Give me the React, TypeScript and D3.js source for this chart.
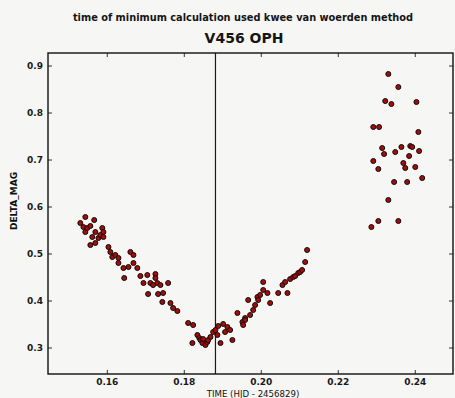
import React from 'react';
import * as d3 from 'd3';

// descending branch
const descTime = [0.1530, 0.1538, 0.1543, 0.1543, 0.1548, 0.1556, 0.1556, 0.1561, 0.1566, 0.1569,
  0.1569, 0.1577, 0.1582, 0.1587, 0.1590, 0.1590, 0.1603, 0.1608, 0.1613, 0.1621,
  0.1629, 0.1629, 0.1642, 0.1644, 0.1655, 0.1660, 0.1668, 0.1668, 0.1678, 0.1686,
  0.1704, 0.1725, 0.1725, 0.1694, 0.1712, 0.1719, 0.1730, 0.1738, 0.1758, 0.1706,
  0.1732, 0.1745, 0.1743, 0.1764, 0.1771, 0.1782];
const descMag = [0.5660, 0.5574, 0.5787, 0.5468, 0.5553, 0.5596, 0.5191, 0.5362, 0.5723, 0.5468,
  0.5234, 0.5340, 0.5404, 0.5553, 0.5468, 0.5362, 0.5149, 0.5043, 0.4936, 0.4979,
  0.4915, 0.4809, 0.4702, 0.4489, 0.4723, 0.5043, 0.4979, 0.4809, 0.4702, 0.4532,
  0.4553, 0.4574, 0.4489, 0.4383, 0.4383, 0.4340, 0.4383, 0.4340, 0.4383, 0.4149,
  0.4149, 0.4170, 0.3979, 0.3957, 0.3851, 0.3787];

// minimum + rising branch
const riseTime = [0.1810, 0.1823, 0.1834, 0.1821, 0.1839, 0.1842, 0.1847, 0.1849, 0.1855, 0.1860,
  0.1862, 0.1868, 0.1875, 0.1881, 0.1886, 0.1894, 0.1888, 0.1901, 0.1906, 0.1912,
  0.1919, 0.1925, 0.1938, 0.1951, 0.1953, 0.1958, 0.1958, 0.1966, 0.1971, 0.1979,
  0.1984, 0.1990, 0.1992, 0.1997, 0.2005, 0.2005, 0.2016, 0.2023, 0.2044, 0.2068,
  0.2055, 0.2062, 0.2075, 0.2083, 0.2088, 0.2096, 0.2101, 0.2106, 0.2114, 0.2119];
const riseMag = [0.3532, 0.3489, 0.3277, 0.3106, 0.3213, 0.3170, 0.3106, 0.3191, 0.3064, 0.3128,
  0.3170, 0.3234, 0.3340, 0.3383, 0.3277, 0.3106, 0.3468, 0.3511, 0.3340, 0.3447,
  0.3383, 0.3170, 0.3745, 0.3553, 0.3489, 0.3638, 0.3596, 0.4021, 0.3702, 0.3809,
  0.3915, 0.4085, 0.4021, 0.4128, 0.4404, 0.4234, 0.4170, 0.3957, 0.4170, 0.4170,
  0.4340, 0.4404, 0.4468, 0.4511, 0.4532, 0.4596, 0.4617, 0.4660, 0.4830, 0.5085];

// late scattered group
const lateTime = [0.2330, 0.2356, 0.2322, 0.2338, 0.2403, 0.2291, 0.2306, 0.2408, 0.2314, 0.2319,
  0.2348, 0.2364, 0.2387, 0.2392, 0.2410, 0.2384, 0.2291, 0.2369, 0.2374, 0.2400,
  0.2304, 0.2345, 0.2379, 0.2418, 0.2330, 0.2304, 0.2356, 0.2286];
const lateMag = [0.8830, 0.8553, 0.8255, 0.8191, 0.8234, 0.7702, 0.7702, 0.7596, 0.7255, 0.7128,
  0.7170, 0.7277, 0.7298, 0.7277, 0.7191, 0.7085, 0.6979, 0.6936, 0.6830, 0.6851,
  0.6809, 0.6532, 0.6532, 0.6617, 0.6149, 0.5702, 0.5702, 0.5574];

const xTicks = [0.16, 0.18, 0.20, 0.22, 0.24];
const yTicks = [0.3, 0.4, 0.5, 0.6, 0.7, 0.8, 0.9];
const minTime = 0.1881;

const W = 455, H = 398;
const left = 48, right = 453, top = 53, bottom = 374;

export default function App() {
  const x = d3.scaleLinear().domain([0.1446, 0.2498]).range([left, right]);
  const y = d3.scaleLinear().domain([0.2447, 0.9277]).range([bottom, top]);

  const pts = [
    ...descTime.map((t, i) => [t, descMag[i]]),
    ...riseTime.map((t, i) => [t, riseMag[i]]),
    ...lateTime.map((t, i) => [t, lateMag[i]]),
  ];
  const font = 'DejaVu Sans, sans-serif';

  return (
    <svg width={W} height={H} style={{ position: 'absolute', left: 0, top: 0 }} fontFamily={font}>
      <rect width={W} height={H} fill="#f6f6f4" />
      <text x={243} y={21} fontSize={9.8} fontWeight={600} textAnchor="middle" fill="#151515">
        time of minimum calculation used kwee van woerden method
      </text>
      <text x={244} y={43} fontSize={14} fontWeight={600} textAnchor="middle" fill="#151515">V456 OPH</text>

      {xTicks.map(t => (
        <g key={'x' + t}>
          <line x1={x(t)} x2={x(t)} y1={bottom} y2={bottom - 4} stroke="#333" />
          <line x1={x(t)} x2={x(t)} y1={top} y2={top + 4} stroke="#333" />
          <text x={x(t)} y={385} fontSize={9} fontWeight={600} textAnchor="middle" fill="#1a1a1a">{t.toFixed(2)}</text>
        </g>
      ))}
      {yTicks.map(t => (
        <g key={'y' + t}>
          <line x1={left} x2={left + 4} y1={y(t)} y2={y(t)} stroke="#333" />
          <line x1={right} x2={right - 4} y1={y(t)} y2={y(t)} stroke="#333" />
          <text x={43} y={y(t) + 3} fontSize={9} fontWeight={600} textAnchor="end" fill="#1a1a1a">{t.toFixed(1)}</text>
        </g>
      ))}

      <line x1={x(minTime)} x2={x(minTime)} y1={top} y2={bottom} stroke="#1a1a2a" strokeWidth={1.2} />

      {pts.map(([t, m], i) => (
        <circle key={i} cx={x(t)} cy={y(m)} r={2.5} fill="#a80a0a" stroke="#0d0d0d" strokeWidth={1} />
      ))}

      <rect x={left} y={top} width={right - left} height={bottom - top} fill="none" stroke="#111" strokeWidth={1.4} />

      <text x={253} y={397} fontSize={8.6} textAnchor="middle" fill="#111">TIME (HJD - 2456829)</text>
      <text transform="translate(17,201) rotate(-90)" fontSize={9} fontWeight={600} textAnchor="middle" fill="#111">DELTA_MAG</text>
    </svg>
  );
}
